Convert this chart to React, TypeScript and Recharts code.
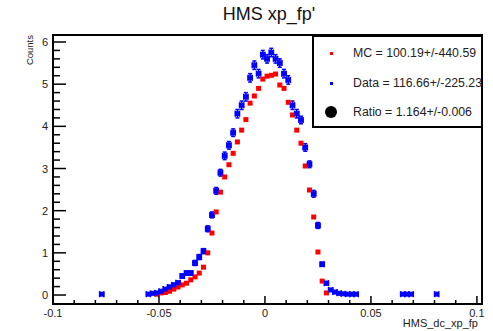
import { ErrorBar, Legend, ReferenceArea, Scatter, ScatterChart, XAxis, YAxis } from 'recharts';

const font = '"Liberation Sans", Arial, Helvetica, sans-serif';

// MC histogram (red), bin width 0.002
const mcX = [
  -0.051, -0.049, -0.047, -0.045, -0.043, -0.041, -0.039, -0.037, -0.035, -0.033,
  -0.031, -0.029, -0.027, -0.025, -0.023, -0.021, -0.019, -0.017, -0.015, -0.013,
  -0.011, -0.009, -0.007, -0.005, -0.003, -0.001, 0.001, 0.003, 0.005, 0.007,
  0.009, 0.011, 0.013, 0.015, 0.017, 0.019, 0.021, 0.023, 0.025, 0.027, 0.029,
];
const mcY = [
  0.02, 0.05, 0.06, 0.09, 0.14, 0.19, 0.24, 0.28, 0.36, 0.43,
  0.52, 0.66, 1.0, 1.47, 1.97, 2.44, 2.8, 3.09, 3.36, 3.63,
  3.91, 4.16, 4.55, 4.72, 4.9, 5.12, 5.19, 5.21, 5.24, 4.98,
  4.9, 4.57, 4.27, 3.91, 3.6, 3.06, 2.49, 1.85, 1.02, 0.33, 0.05,
];

// Data histogram (blue)
const dataX = [
  -0.077,
  -0.055, -0.053, -0.051, -0.049, -0.047, -0.045, -0.043, -0.041, -0.039, -0.037,
  -0.035, -0.033, -0.031, -0.029, -0.027, -0.025, -0.023, -0.021, -0.019, -0.017,
  -0.015, -0.013, -0.011, -0.009, -0.007, -0.005, -0.003, -0.001, 0.001, 0.003,
  0.005, 0.007, 0.009, 0.011, 0.013, 0.015, 0.017, 0.019, 0.021, 0.023,
  0.025, 0.027, 0.029, 0.031, 0.033, 0.035, 0.037, 0.039, 0.041, 0.043,
  0.065, 0.067, 0.069, 0.081,
];
const dataY = [
  0.02,
  0.02, 0.04, 0.05, 0.09, 0.14, 0.19, 0.24, 0.29, 0.45, 0.52,
  0.52, 0.76, 0.9, 1.04, 1.57, 1.9, 2.47, 2.9, 3.3, 3.55,
  3.85, 4.3, 4.5, 4.7, 5.15, 5.45, 5.25, 5.7, 5.6, 5.75,
  5.6, 5.5, 5.25, 5.1, 4.5, 4.3, 4.15, 3.5, 3.1, 2.4,
  1.65, 0.73, 0.28, 0.12, 0.07, 0.04, 0.03, 0.02, 0.02, 0.02,
  0.02, 0.02, 0.02, 0.02,
];
const dataErr = [
  0.02,
  0.02, 0.02, 0.02, 0.03, 0.03, 0.04, 0.04, 0.04, 0.05, 0.05,
  0.05, 0.06, 0.06, 0.06, 0.07, 0.07, 0.08, 0.08, 0.09, 0.09,
  0.09, 0.1, 0.1, 0.1, 0.1, 0.1, 0.1, 0.1, 0.1, 0.1,
  0.1, 0.1, 0.1, 0.1, 0.1, 0.1, 0.09, 0.09, 0.08, 0.08,
  0.07, 0.05, 0.04, 0.03, 0.02, 0.02, 0.02, 0.02, 0.02, 0.02,
  0.02, 0.02, 0.02, 0.02,
];
const binHalf = 0.001;

const xTicks = [
  -0.1, -0.09, -0.08, -0.07, -0.06, -0.05, -0.04, -0.03, -0.02, -0.01, 0,
  0.01, 0.02, 0.03, 0.04, 0.05, 0.06, 0.07, 0.08, 0.09, 0.1,
];
const yTicks = [
  0, 0.2, 0.4, 0.6, 0.8, 1, 1.2, 1.4, 1.6, 1.8, 2, 2.2, 2.4, 2.6, 2.8, 3,
  3.2, 3.4, 3.6, 3.8, 4, 4.2, 4.4, 4.6, 4.8, 5, 5.2, 5.4, 5.6, 5.8, 6,
];

const stats = [
  { label: 'MC = 100.19+/-440.59', marker: 'red' },
  { label: 'Data = 116.66+/-225.23', marker: 'blue' },
  { label: 'Ratio = 1.164+/-0.006', marker: 'ratio' },
];

const xDomain = [-0.1, 0.1024];
const yDomain = [-0.213, 6.166];

const mcPoints = mcX.map((x, i) => ({ x, y: mcY[i] }));
const dataPoints = dataX.map((x, i) => ({ x, y: dataY[i], ex: binHalf, ey: dataErr[i] }));

const isMajor = (v: number, step: number) => Math.abs(v / step - Math.round(v / step)) < 1e-6;

function XTick({ x, y, payload }: any) {
  const major = isMajor(payload.value, 0.05);
  return (
    <g>
      <line x1={x} x2={x} y1={y} y2={y - (major ? 8 : 4)} stroke="#000" strokeWidth={1.5} />
      {major ? (
        <text x={x} y={y + 13} textAnchor="middle" fontSize={11} fontFamily={font} fill="#222">
          {String(payload.value)}
        </text>
      ) : null}
    </g>
  );
}

function YTick({ x, y, payload }: any) {
  const major = isMajor(payload.value, 1);
  return (
    <g>
      <line x1={x} x2={x + (major ? 13 : 7)} y1={y} y2={y} stroke="#000" strokeWidth={1.5} />
      {major ? (
        <text x={x - 5} y={y + 4} textAnchor="end" fontSize={11} fontFamily={font} fill="#222">
          {String(payload.value)}
        </text>
      ) : null}
    </g>
  );
}

function CountsLabel() {
  return (
    <text x={33} y={35} transform="rotate(-90 33 35)" textAnchor="end" fontSize={9.5} fontFamily={font} fill="#222">
      Counts
    </text>
  );
}

const redSquare = (props: any) => <rect x={props.cx - 2.5} y={props.cy - 2.5} width={5} height={5} fill="#ff0000" />;
const blueSquare = (props: any) => <rect x={props.cx - 2.5} y={props.cy - 2.5} width={5} height={5} fill="#0000ff" />;

function StatBox() {
  return (
    <div
      style={{
        width: 171,
        height: 93,
        boxSizing: 'border-box',
        border: '2px solid #000',
        background: '#fff',
        position: 'relative',
        fontFamily: font,
        fontSize: 12.3,
        color: '#222',
      }}
    >
      {stats.map((s, i) => (
        <div key={s.label} style={{ position: 'absolute', left: 0, top: 6 + i * 29.5, height: 20, width: 200 }}>
          <span
            style={{
              position: 'absolute',
              left: s.marker === 'ratio' ? 11 : 16,
              top: s.marker === 'ratio' ? 4 : 9,
              width: s.marker === 'ratio' ? 12 : 3,
              height: s.marker === 'ratio' ? 12 : 3,
              borderRadius: s.marker === 'ratio' ? '50%' : 0,
              background: s.marker === 'red' ? '#ff0000' : s.marker === 'blue' ? '#0000ff' : '#000',
            }}
          />
          <span style={{ position: 'absolute', left: 39, top: 2, whiteSpace: 'nowrap', lineHeight: '16px' }}>{s.label}</span>
        </div>
      ))}
    </div>
  );
}

export default function App() {
  return (
    <div style={{ position: 'absolute', left: 0, top: 0, width: 493, height: 331, background: '#fff' }}>
      <div
        style={{
          position: 'absolute',
          left: 0,
          width: 538,
          top: 3,
          textAlign: 'center',
          fontFamily: font,
          fontSize: 18,
          color: '#111',
          lineHeight: '22px',
        }}
      >
        HMS xp_fp'
      </div>
      <ScatterChart width={493} height={331} margin={{ top: 35, right: 11, left: 0, bottom: 0 }}>
        <XAxis
          type="number"
          dataKey="x"
          domain={xDomain}
          allowDataOverflow
          ticks={xTicks}
          interval={0}
          tick={<XTick />}
          tickLine={false}
          axisLine={false}
          tickSize={0}
          tickMargin={0}
          height={27}
          label={{ value: 'HMS_dc_xp_fp', position: 'insideBottomRight', offset: 4, fontSize: 11, fontFamily: font, fill: '#222' }}
        />
        <YAxis
          type="number"
          dataKey="y"
          domain={yDomain}
          allowDataOverflow
          ticks={yTicks}
          interval={0}
          tick={<YTick />}
          tickLine={false}
          axisLine={false}
          tickSize={0}
          tickMargin={0}
          width={53}
          label={<CountsLabel />}
        />
        <Scatter data={mcPoints} shape={redSquare} isAnimationActive={false} />
        <Scatter data={dataPoints} shape={blueSquare} isAnimationActive={false}>
          <ErrorBar dataKey="ey" direction="y" width={2} stroke="#0000ff" strokeWidth={1.5} />
          <ErrorBar dataKey="ex" direction="x" width={3} stroke="#0000ff" strokeWidth={1.5} />
        </Scatter>
        <ReferenceArea
          x1={xDomain[0]}
          x2={xDomain[1]}
          y1={yDomain[0]}
          y2={yDomain[1]}
          fill="none"
          stroke="#000"
          strokeWidth={2}
          ifOverflow="visible"
        />
        <Legend
          layout="vertical"
          align="center"
          verticalAlign="middle"
          content={<StatBox />}
          wrapperStyle={{ left: 312, top: 35, width: 171, height: 93 }}
        />
      </ScatterChart>
    </div>
  );
}
